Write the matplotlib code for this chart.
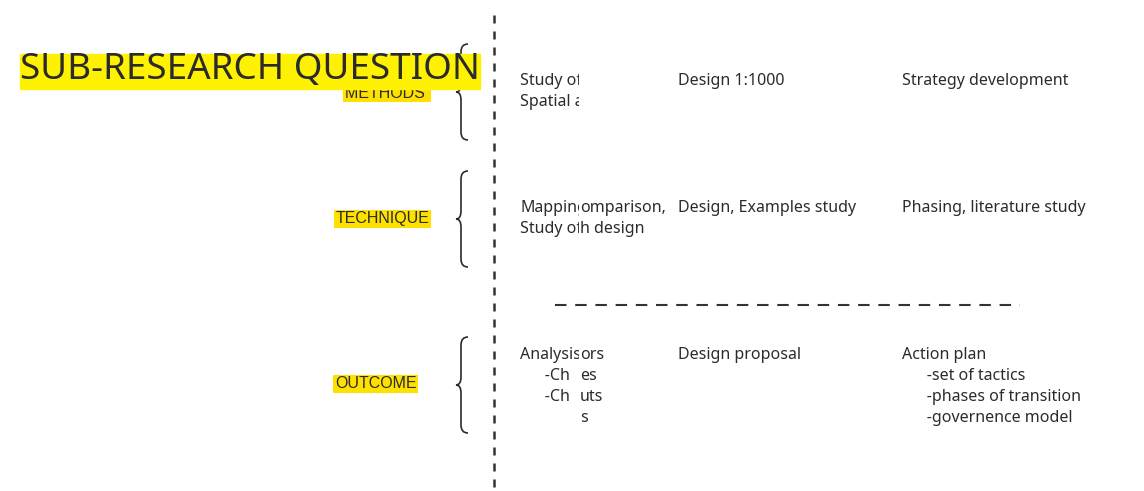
import matplotlib.pyplot as plt
from matplotlib.path import Path
from matplotlib.patches import PathPatch, Rectangle
from matplotlib.transforms import Bbox, TransformedBbox

# content of the diagram
title = "SUB-RESEARCH QUESTION"
row_labels = ["METHODS ", "TECHNIQUE", "OUTCOME"]

# first column: the left text is cut off, a second text shows through on the right
col1_left = [["Study of", "Spatial a"],
             ["Mapping", "Study of"],
             ["Analysis", "      -Ch", "      -Ch", ""]]
col1_right = [["", ""],
              ["omparison,", "h design"],
              ["ors", "es", "uts", "s"]]
col2 = [["Design 1:1000"],
        ["Design, Examples study"],
        ["Design proposal"]]
col3 = [["Strategy development"],
        ["Phasing, literature study"],
        ["Action plan", "      -set of tactics", "      -phases of transition",
         "      -governence model"]]

W, H = 1144, 491
fig = plt.figure(figsize=(W / 100, H / 100), dpi=100)
ax = fig.add_axes([0, 0, 1, 1])
ax.set_xlim(0, W)
ax.set_ylim(H, 0)
ax.axis("off")

ink = "#2b2b2b"
body = dict(family="Noto Sans", fontsize=11.5, color=ink, va="top", ha="left")

# title with yellow highlight
ax.add_patch(Rectangle((20, 54), 460, 35, color="#fff200", zorder=3))
ax.text(20, 70, title, family="Noto Sans", fontsize=26.5, color=ink,
        va="center", ha="left", zorder=4)

# row labels with highlight
label_pos = [(345, 93), (336, 219), (335, 384)]
for (x, y), lab in zip(label_pos, row_labels):
    ax.text(x, y, lab, family="Liberation Sans", fontsize=11.5, color=ink,
            va="center", ha="left", zorder=2,
            bbox=dict(boxstyle="square,pad=0.1", fc="#ffe100", ec="none"))

# curly braces
def brace(xc, yc, h):
    top, bot = yc - h / 2, yc + h / 2
    verts = [(xc + 12, top), (xc + 5, top), (xc + 5, top + 8),
             (xc + 5, yc - 8), (xc + 5, yc), (xc, yc),
             (xc + 5, yc), (xc + 5, yc + 8),
             (xc + 5, bot - 8), (xc + 5, bot), (xc + 12, bot)]
    codes = [Path.MOVETO, Path.CURVE3, Path.CURVE3,
             Path.LINETO, Path.CURVE3, Path.CURVE3,
             Path.CURVE3, Path.CURVE3,
             Path.LINETO, Path.CURVE3, Path.CURVE3]
    ax.add_patch(PathPatch(Path(verts, codes), fc="none", ec=ink, lw=1.2))

for yc in [92, 219, 385]:
    brace(456, yc, 96)

# dashed separators
ax.plot([494, 494], [15, 491], color="#333333", lw=1.8, dashes=(3.2, 3.2))
ax.plot([555, 1020], [305, 305], color="#333333", lw=1.5, dashes=(5.5, 4.2))

# table text
row_top = [73, 200, 347]
dy = 21
clip_left = TransformedBbox(Bbox.from_extents(0, 0, 579, H), ax.transData)
clip_right = TransformedBbox(Bbox.from_extents(579, 0, W, H), ax.transData)
for r, y0 in enumerate(row_top):
    for i, s in enumerate(col1_left[r]):
        t = ax.text(520, y0 + i * dy, s, **body)
        t.set_clip_box(clip_left)
        t.set_clip_on(True)
    for i, s in enumerate(col1_right[r]):
        t = ax.text(580, y0 + i * dy, s, **body)
        t.set_clip_box(clip_right)
        t.set_clip_on(True)
    for i, s in enumerate(col2[r]):
        ax.text(678, y0 + i * dy, s, **body)
    for i, s in enumerate(col3[r]):
        ax.text(902, y0 + i * dy, s, **body)

fig.savefig("out.png", dpi=100, facecolor="white")
